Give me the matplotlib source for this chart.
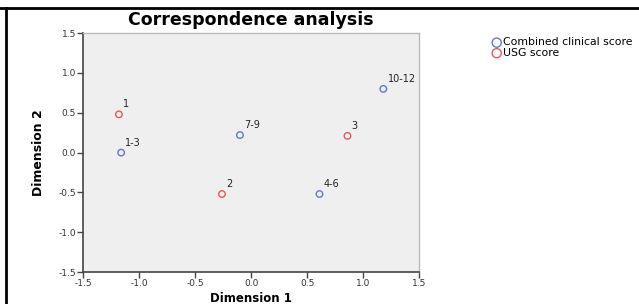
import matplotlib.pyplot as plt
from matplotlib.lines import Line2D

# category points from the correspondence analysis
clin_labels = ['1-3', '4-6', '7-9', '10-12']
clin_x = [-1.16, 0.61, -0.10, 1.18]
clin_y = [0.00, -0.52, 0.22, 0.80]

usg_labels = ['1', '2', '3']
usg_x = [-1.18, -0.26, 0.86]
usg_y = [0.48, -0.52, 0.21]

ticks = [-1.5, -1.0, -0.5, 0.0, 0.5, 1.0, 1.5]

blue = '#6677c8'
red = '#e8575a'

fig = plt.figure(figsize=(6.39, 3.04), dpi=100)
ax = fig.add_axes([0.130, 0.105, 0.526, 0.786])
ax.set_facecolor('#efefef')

ax.scatter(clin_x, clin_y, s=22, facecolors='none', edgecolors=blue, linewidths=1.0,
           label='Combined clinical score', zorder=3)
ax.scatter(usg_x, usg_y, s=22, facecolors='none', edgecolors=red, linewidths=1.0,
           label='USG score', zorder=3)

for lab, x, y in zip(clin_labels, clin_x, clin_y):
    ax.annotate(lab, (x, y), xytext=(3, 5), textcoords='offset points', fontsize=7, color='#222222')
for lab, x, y in zip(usg_labels, usg_x, usg_y):
    ax.annotate(lab, (x, y), xytext=(3, 5), textcoords='offset points', fontsize=7, color='#222222')

ax.set_xlim(-1.5, 1.5)
ax.set_ylim(-1.5, 1.5)
ax.set_xticks(ticks)
ax.set_yticks(ticks)
ax.set_xticklabels([f'{t:.1f}' for t in ticks])
ax.set_yticklabels([f'{t:.1f}' for t in ticks])
ax.tick_params(labelsize=6.5, labelcolor='#333333', length=4, width=1, color='#444444', pad=1)

for s in ['left', 'bottom']:
    ax.spines[s].set_color('#444444')
    ax.spines[s].set_linewidth(1.2)
for s in ['top', 'right']:
    ax.spines[s].set_color('#bbbbbb')
    ax.spines[s].set_linewidth(1.0)

ax.set_xlabel('Dimension 1', fontsize=8.5, fontweight='bold', labelpad=3)
ax.set_ylabel('Dimension 2', fontsize=9, fontweight='bold', labelpad=10,
              family=['Liberation Sans Narrow', 'DejaVu Sans'])
ax.set_title('Correspondence analysis', fontsize=12.5, fontweight='bold', pad=6,
             family=['DejaVu Sans'])

leg = ax.legend(loc='upper left', bbox_to_anchor=(1.2, 1.0), frameon=False, fontsize=7.8,
                handletextpad=0.0, borderaxespad=0, labelspacing=0.05, handlelength=1.1,
                markerscale=1.4)

# frame lines at top and left of the original figure
fig.add_artist(Line2D([0, 1], [1 - 8 / 304, 1 - 8 / 304], color='black', lw=2))
fig.add_artist(Line2D([6 / 639, 6 / 639], [0, 1 - 8 / 304], color='black', lw=2))

fig.savefig('out.png', dpi=100)
